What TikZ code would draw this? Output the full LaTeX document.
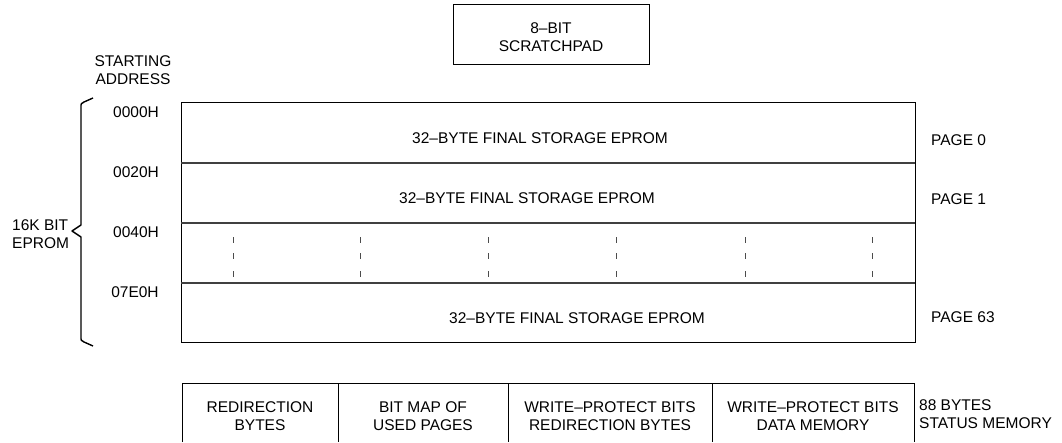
\documentclass[tikz,border=0pt]{standalone}
\usepackage{fontspec}
\setmainfont{Liberation Sans}
\begin{document}
\begin{tikzpicture}[x=1pt,y=-1pt,
  lbl/.style={inner sep=0pt,font=\fontsize{15.5}{17.8}\selectfont,align=center},
  lbll/.style={lbl,align=left,anchor=west},
  boxline/.style={draw=black,line width=1pt},
  rowline/.style={draw=black!75,line width=1.2pt},
  dotline/.style={draw=black!70,line width=1pt},
  bracel/.style={draw=black,line width=1.4pt,line join=round}]
\useasboundingbox[fill=white] (0,0) rectangle (1062,442);
% scratchpad
\node[draw=black,line width=0.9pt,minimum width=196pt,minimum height=60pt,inner sep=0pt] (scratch) at (551,34) {};
\node[lbl] (scratchtxt) at (551,37) {8–BIT\\SCRATCHPAD};
% starting address
\node[lbl] (start) at (133,70) {STARTING\\ADDRESS};
% main memory box
\coordinate (mtl) at (181,102);
\coordinate (mbr) at (915,342);
\draw[boxline] (mtl) rectangle (mbr);
\coordinate (r1l) at (181,163); \coordinate (r1r) at (915,163);
\coordinate (r2l) at (181,223); \coordinate (r2r) at (915,223);
\coordinate (r3l) at (181,283); \coordinate (r3r) at (915,283);
\draw[rowline] (r1l) -- (r1r);
\draw[rowline] (r2l) -- (r2r);
\draw[rowline] (r3l) -- (r3r);
\node[lbl] (row0) at (540,138) {32–BYTE FINAL STORAGE EPROM};
\node[lbl] (row1) at (527,198) {32–BYTE FINAL STORAGE EPROM};
\node[lbl] (row63) at (577,318) {32–BYTE FINAL STORAGE EPROM};
% dashed columns
\foreach \x in {233,360,488,616,745,872}{
  \draw[dotline] (\x,237) -- (\x,243);
  \draw[dotline] (\x,253) -- (\x,259);
  \draw[dotline] (\x,271) -- (\x,277);
}
% addresses
\node[lbl] (a0) at (136,112) {0000H};
\node[lbl] (a1) at (136,172) {0020H};
\node[lbl] (a2) at (136,232) {0040H};
\node[lbl] (a3) at (135,292) {07E0H};
% pages
\node[lbll] (p0) at (931,140) {PAGE 0};
\node[lbll] (p1) at (931,199) {PAGE 1};
\node[lbll] (p63) at (931,317) {PAGE 63};
% brace
\draw[bracel] (93,98) -- (84,102) .. controls (81,103.5) .. (81,107) -- (81,225) -- (72,231) -- (81,237) -- (81,337) .. controls (81,340.5) .. (84,342) -- (93,346);
\node[lbll] (eprom) at (12,234) {16K BIT\\EPROM};
% status memory
\draw[boxline] (182,442) -- (182,383) -- (914,383) -- (914,442);
\foreach \x in {338,508,712}{ \draw[boxline] (\x,383) -- (\x,442); }
\node[lbl] (s1) at (260,416) {REDIRECTION\\BYTES};
\node[lbl] (s2) at (423,416) {BIT MAP OF\\USED PAGES};
\node[lbl] (s3) at (610,416) {WRITE–PROTECT BITS\\REDIRECTION BYTES};
\node[lbl] (s4) at (813,416) {WRITE–PROTECT BITS\\DATA MEMORY};
\node[lbll] (s5) at (919,414) {88 BYTES\\STATUS MEMORY};
\end{tikzpicture}
\end{document}
